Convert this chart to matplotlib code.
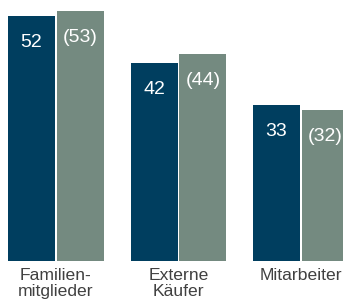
import matplotlib
matplotlib.use("Agg")
import matplotlib.pyplot as plt

categories = ["Familien-\nmitglieder", "Externe\nKäufer", "Mitarbeiter"]
current = [52, 42, 33]
previous = [53, 44, 32]

dark = "#003e5f"
gray = "#748a80"

plt.rcParams['font.family'] = ['Liberation Sans', 'DejaVu Sans']

fig = plt.figure(figsize=(3.43, 3.02), dpi=100)
ax = fig.add_axes([0, 41/302, 1, 261/302])
sp = 122.5
w = 47 / sp
off = 24.5 / sp
x = list(range(len(categories)))
ax.bar([i - off for i in x], current, width=w, color=dark)
ax.bar([i + off for i in x], previous, width=w, color=gray)

for i, v in enumerate(current):
    ax.annotate(f"{v}", (i - off, v), xytext=(0, -13), textcoords="offset points",
                ha="center", va="top", color="white", fontsize=14)
for i, v in enumerate(previous):
    ax.annotate(f"({v})", (i + off, v), xytext=(0, -13), textcoords="offset points",
                ha="center", va="top", color="white", fontsize=14)

ax.set_ylim(0, 261/4.714)
ax.set_xlim(-56/sp, (343-56)/sp)
ax.set_xticks(x)
ax.set_xticklabels(categories, fontsize=12.6, color="#404040", linespacing=1.08)
ax.tick_params(axis="x", length=0, pad=5)
ax.set_yticks([])
for s in ax.spines.values():
    s.set_visible(False)

fig.savefig("out.png", dpi=100)
